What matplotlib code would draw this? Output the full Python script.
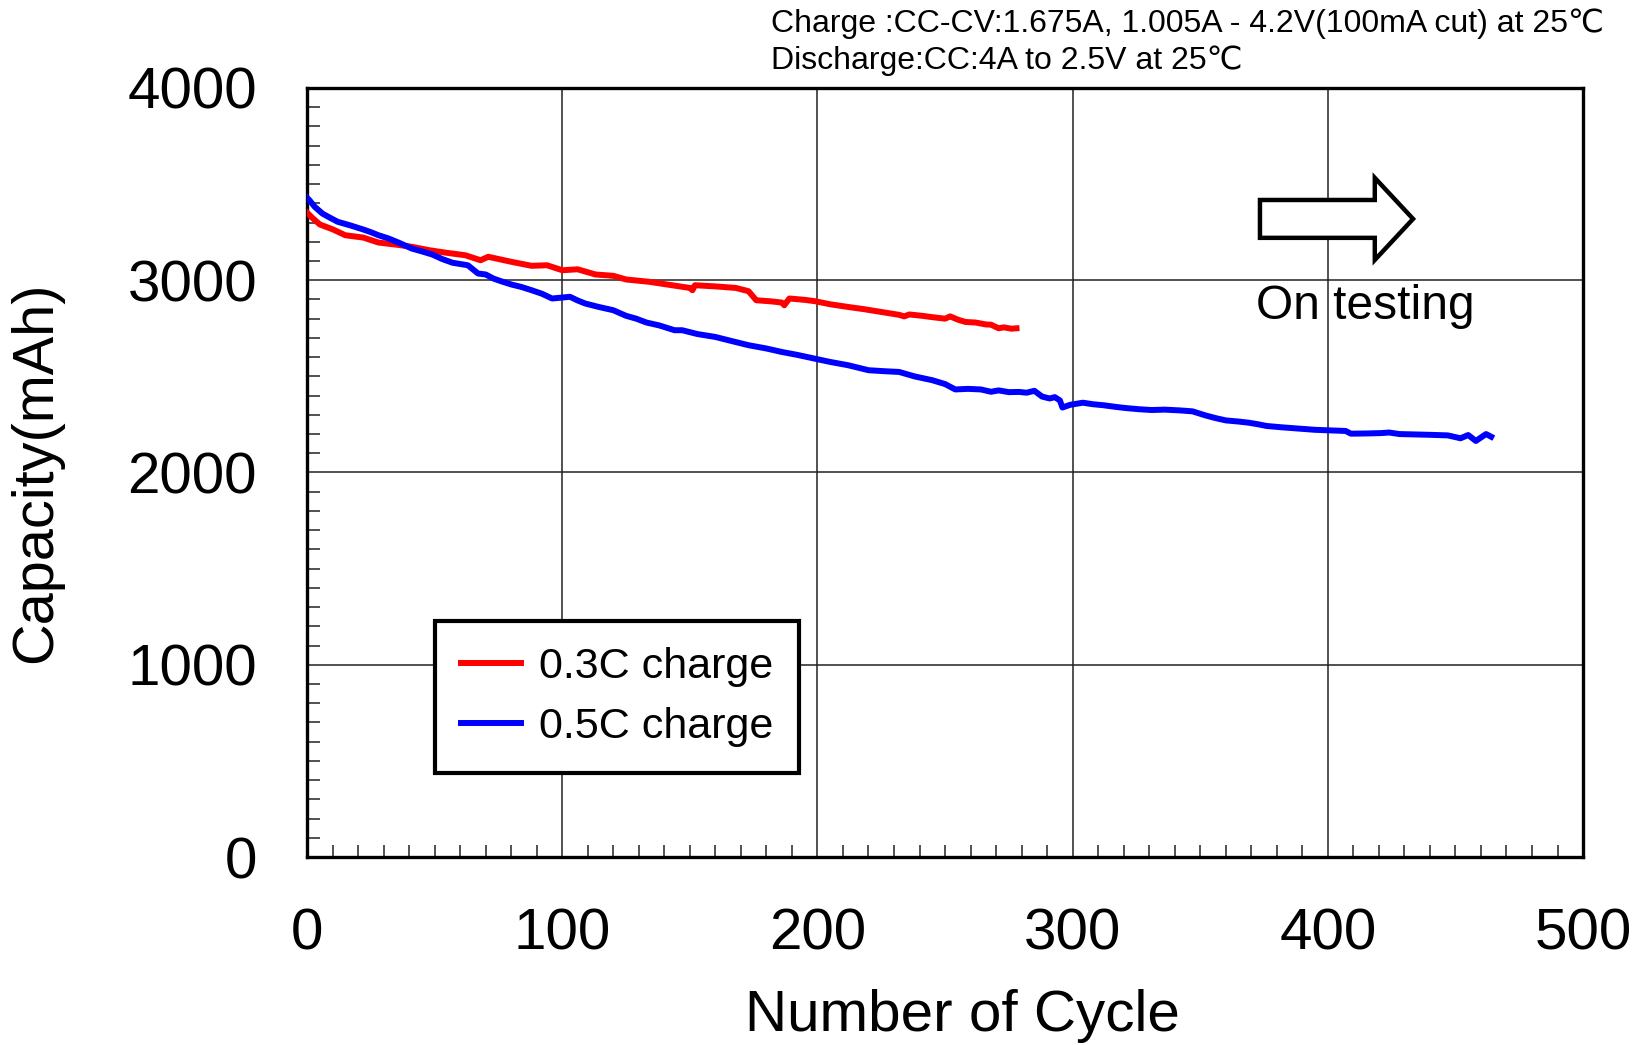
import matplotlib
matplotlib.use('Agg')
import matplotlib.pyplot as plt
from matplotlib.patches import FancyArrow
from matplotlib.ticker import MultipleLocator

plt.rcParams['font.family'] = ['Liberation Sans', 'DejaVu Sans']

# 0.3C charge
red_cycle = [0, 2, 5, 10, 15, 22, 28, 35, 41, 48, 54, 62, 68, 71, 80, 88, 94, 100,
             106, 113, 120, 125, 134, 140, 145, 150, 151, 152, 160, 168, 173, 176,
             182, 186, 187, 189, 195, 199, 205, 212, 218, 225, 232, 234, 236, 241,
             245, 250, 252, 255, 258, 262, 266, 268, 271, 273, 276, 278]
red_cap = [3352, 3325, 3290, 3265, 3234, 3222, 3196, 3185, 3174, 3156, 3144, 3130,
           3104, 3122, 3096, 3075, 3078, 3052, 3057, 3030, 3023, 3004, 2992, 2980,
           2970, 2960, 2948, 2974, 2968, 2960, 2943, 2896, 2890, 2884, 2870, 2905,
           2898, 2891, 2875, 2861, 2850, 2835, 2820, 2812, 2822, 2815, 2808, 2800,
           2812, 2795, 2783, 2780, 2770, 2769, 2750, 2755, 2748, 2750]

# 0.5C charge
blue_cycle = [0, 1, 3, 6, 9, 12, 17, 22, 25, 28, 32, 36, 41, 45, 49, 53, 57, 63, 67,
              70, 73, 76, 80, 84, 88, 92, 96, 100, 103, 106, 109, 114, 120, 125, 129,
              133, 138, 144, 147, 153, 160, 166, 173, 180, 186, 192, 199, 205, 212,
              216, 220, 226, 232, 238, 245, 250, 254, 259, 264, 268, 271, 275, 279,
              282, 285, 288, 291, 293, 295, 296, 299, 304, 308, 312, 317, 321, 326,
              331, 336, 342, 347, 352, 356, 360, 365, 369, 373, 376, 382, 389, 395,
              401, 407, 409, 415, 421, 424, 428, 434, 440, 447, 452, 455, 458, 462,
              464]
blue_cap = [3429, 3415, 3382, 3347, 3325, 3304, 3285, 3264, 3250, 3234, 3217, 3195,
            3165, 3150, 3134, 3110, 3091, 3078, 3035, 3030, 3009, 2995, 2978, 2965,
            2948, 2930, 2905, 2910, 2914, 2895, 2879, 2862, 2844, 2815, 2800, 2780,
            2765, 2740, 2740, 2720, 2705, 2685, 2662, 2645, 2627, 2612, 2592, 2575,
            2558, 2545, 2532, 2527, 2523, 2500, 2480, 2460, 2432, 2435, 2432, 2420,
            2427, 2418, 2419, 2415, 2425, 2395, 2385, 2392, 2375, 2338, 2352, 2363,
            2355, 2350, 2341, 2335, 2329, 2325, 2327, 2323, 2318, 2297, 2283, 2271,
            2265, 2259, 2250, 2242, 2235, 2228, 2222, 2219, 2216, 2202, 2203, 2205,
            2208, 2200, 2198, 2196, 2193, 2178, 2195, 2164, 2200, 2186]

fig = plt.figure(figsize=(16.43, 10.45), dpi=100)
ax = fig.add_axes([0.1869, 0.1799, 0.7766, 0.7359])

ax.plot(red_cycle, red_cap, color='#ff0000', lw=4.3, label='0.3C charge', zorder=3)
ax.plot(blue_cycle, blue_cap, color='#0000ff', lw=4.3, label='0.5C charge', zorder=3)

ax.set_xlim(0, 500)
ax.set_ylim(0, 4000)
ax.xaxis.set_major_locator(MultipleLocator(100))
ax.xaxis.set_minor_locator(MultipleLocator(10))
ax.yaxis.set_major_locator(MultipleLocator(1000))
ax.yaxis.set_minor_locator(MultipleLocator(100))
ax.grid(True, which='major', color='#222222', lw=1.1)
ax.tick_params(which='both', direction='in', top=False, right=False, color='#333333')
ax.tick_params(which='minor', length=9, width=1.2)
ax.tick_params(which='major', length=0, labelsize=42, pad=36)
for s in ax.spines.values():
    s.set_linewidth(2.4)

ax.set_xlabel('Number of Cycle', fontsize=42, labelpad=20)
ax.xaxis.label.set_x(0.514)
ax.set_ylabel('Capacity(mAh)', fontsize=41.5, labelpad=46)

leg = ax.legend(loc='lower left', bbox_to_anchor=(0.1003, 0.109), borderaxespad=0,
                fontsize=31, fancybox=False, edgecolor='black', handlelength=1.4,
                handletextpad=0.42, labelspacing=0.47, borderpad=0.6, framealpha=1)
leg.get_frame().set_linewidth(3)

ax.add_patch(FancyArrow(373.4, 3319, 60, 0, width=197, head_width=427,
                        head_length=15, length_includes_head=True,
                        facecolor='white', edgecolor='black', lw=3.2, zorder=4))
ax.text(372, 2861, 'On testing', fontsize=34.5, ha='left', va='center', zorder=4)

fig.text(0.469, 0.977, 'Charge :CC-CV:1.675A, 1.005A - 4.2V(100mA cut) at 25\u2103',
         fontsize=23, ha='left', va='center')
fig.text(0.469, 0.942, 'Discharge:CC:4A to 2.5V at 25\u2103',
         fontsize=23, ha='left', va='center')

fig.savefig('out.png', dpi=100)
